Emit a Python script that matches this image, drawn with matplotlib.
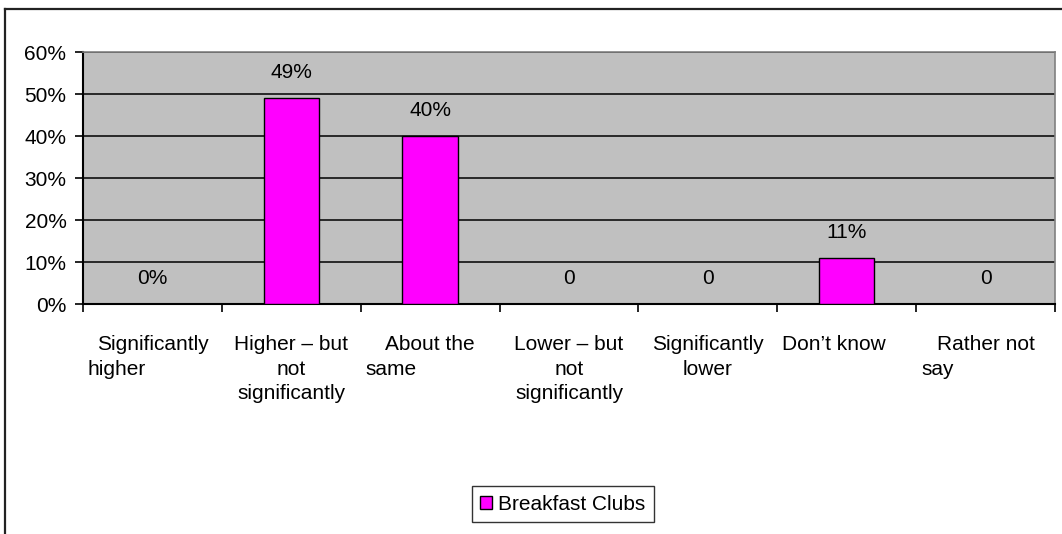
import matplotlib
matplotlib.use("Agg")
import matplotlib.pyplot as plt
from matplotlib.lines import Line2D
import numpy as np

# data
categories = [
    ["Significantly", "higher"],
    ["Higher \u2013 but", "not", "significantly"],
    ["About the", "same"],
    ["Lower \u2013 but", "not", "significantly"],
    ["Significantly", "lower"],
    ["Don\u2019t know"],
    ["Rather not", "say"],
]
# how each label line sits under its category ('c' centred, 'l' left)
line_align = [
    ["c", "l"],
    ["c", "c", "c"],
    ["c", "l"],
    ["c", "c", "c"],
    ["c", "c"],
    ["l"],
    ["c", "l"],
]
values = [0, 49, 40, 0, 0, 11, 0]
value_labels = ["0%", "49%", "40%", "0", "0", "11%", "0"]
yticks = [0, 10, 20, 30, 40, 50, 60]
series_name = "Breakfast Clubs"

plt.rcParams['font.family'] = ['Liberation Sans', 'DejaVu Sans']
fs = 15

fig = plt.figure(figsize=(10.62, 5.34), dpi=100)
ax = fig.add_axes([0.0782, 0.4307, 0.9152, 0.4719])
ax.set_facecolor("#C0C0C0")

x = np.arange(len(values))
bars = ax.bar(x, values, width=0.4, color="#FF00FF", edgecolor="black",
              linewidth=1.0, label=series_name, zorder=3)

ax.set_xlim(-0.5, len(values) - 0.5)
ax.set_ylim(0, 60)
ax.set_yticks(yticks)
ax.set_yticklabels([f"{t}%" for t in yticks], fontsize=fs)
ax.yaxis.grid(True, color="black", linewidth=1.1, zorder=1)
ax.set_axisbelow(True)

# x ticks at category boundaries, no labels
ax.set_xticks(np.arange(-0.5, len(values)), minor=False)
ax.set_xticklabels([])
ax.tick_params(axis="x", direction="out", length=6, width=1.2, color="black")
ax.tick_params(axis="y", direction="out", length=6, width=1.2, pad=6, color="black")

for s in ["left", "bottom"]:
    ax.spines[s].set_color("black")
    ax.spines[s].set_linewidth(1.5)
for s in ["top", "right"]:
    ax.spines[s].set_color("#808080")
    ax.spines[s].set_linewidth(1.2)

# value labels above bars
for xi, v, lab in zip(x, values, value_labels):
    ax.annotate(lab, xy=(xi, v), xytext=(0, 14.4), textcoords="offset points",
                ha="center", va="baseline", fontsize=fs, zorder=4)

# category labels, line by line
line_offsets = [33.1, 50.8, 68.4]
for i, (lines, aligns) in enumerate(zip(categories, line_align)):
    for j, (txt, al) in enumerate(zip(lines, aligns)):
        if al == "c":
            xx, ha = i, "center"
        else:
            xx, ha = i - 0.5 + 0.035, "left"
        ax.annotate(txt, xy=(xx, 0), xycoords=("data", "axes fraction"),
                    xytext=(0, -line_offsets[j]), textcoords="offset points",
                    ha=ha, va="baseline", fontsize=fs, annotation_clip=False)

leg = fig.legend(handles=[bars], labels=[series_name], loc="center",
                 bbox_to_anchor=(0.530, 0.056), fontsize=fs, frameon=True,
                 fancybox=False, edgecolor="black", handlelength=0.55,
                 handleheight=0.55, handletextpad=0.3, borderpad=0.4,
                 borderaxespad=0)
leg.get_frame().set_linewidth(1.0)

# outer chart border (left and top visible)
bx = 5 / 1062
by = 1 - 9 / 534
fig.add_artist(Line2D([bx, bx], [0, by], transform=fig.transFigure,
                      color="#222222", linewidth=1.6))
fig.add_artist(Line2D([bx, 1.0], [by, by], transform=fig.transFigure,
                      color="#222222", linewidth=1.6))

fig.savefig("out.png", dpi=100)
